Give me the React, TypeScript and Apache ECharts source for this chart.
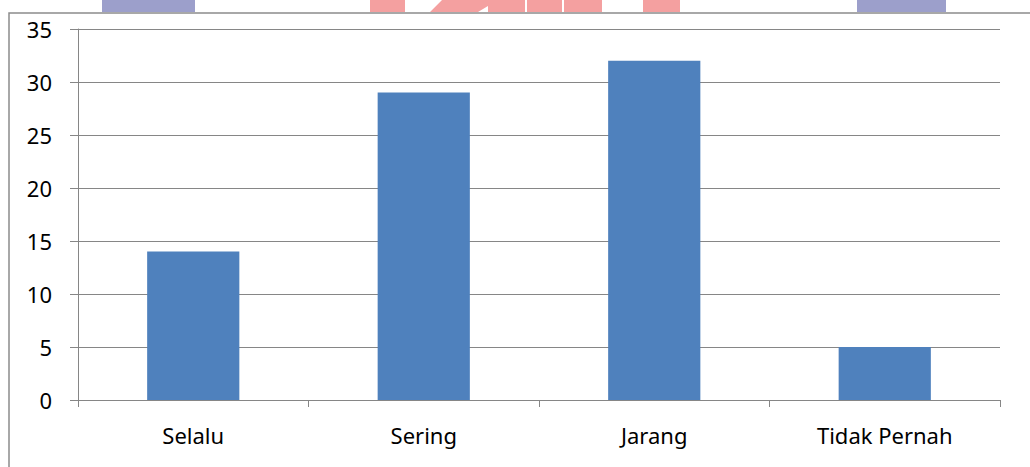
import React, { useEffect, useRef } from "react";
import * as echarts from "echarts";

const categories = ["Selalu", "Sering", "Jarang", "Tidak Pernah"];
const values = [14, 29, 32, 5];
const yMin = 0;
const yMax = 35;
const yInterval = 5;

export default function App() {
  const ref = useRef<HTMLDivElement>(null);
  useEffect(() => {
    if (!ref.current) return;
    const chart = echarts.init(ref.current, null, { renderer: "svg" });
    const font = "Noto Sans";
    chart.setOption({
      animation: false,
      backgroundColor: "#ffffff",
      grid: { left: 78, right: 30, top: 29, bottom: 67, containLabel: false },
      xAxis: {
        type: "category",
        data: categories,
        boundaryGap: true,
        axisLine: { show: true, lineStyle: { color: "#868686", width: 1 } },
        axisTick: { show: true, length: 7, alignWithLabel: false, lineStyle: { color: "#868686" } },
        axisLabel: { color: "#000000", fontSize: 22, fontFamily: font, margin: 24 },
        splitLine: { show: false },
      },
      yAxis: {
        type: "value",
        min: yMin,
        max: yMax,
        interval: yInterval,
        axisLine: { show: true, lineStyle: { color: "#868686", width: 1 } },
        axisTick: { show: true, length: 8, lineStyle: { color: "#868686" } },
        axisLabel: { color: "#000000", fontSize: 22, fontFamily: font, margin: 26 },
        splitLine: { show: true, lineStyle: { color: "#868686", width: 1 } },
      },
      series: [
        {
          type: "bar",
          data: values,
          barWidth: "40%",
          itemStyle: { color: "#4F81BD" },
        },
      ],
      graphic: [
        { type: "rect", shape: { x: 102, y: 0, width: 93, height: 12 }, style: { fill: "#9C9FCB" }, silent: true },
        { type: "rect", shape: { x: 857, y: 0, width: 89, height: 12 }, style: { fill: "#9C9FCB" }, silent: true },
        { type: "rect", shape: { x: 370, y: 0, width: 35, height: 12 }, style: { fill: "#F4A0A0" }, silent: true },
        {
          type: "polygon",
          shape: { points: [[430, 12], [442, 0], [525, 0], [525, 12], [488, 12], [488, 6], [478, 12]] },
          style: { fill: "#F4A0A0" },
          silent: true,
        },
        { type: "rect", shape: { x: 527, y: 0, width: 35, height: 12 }, style: { fill: "#F4A0A0" }, silent: true },
        { type: "rect", shape: { x: 564, y: 0, width: 38, height: 12 }, style: { fill: "#F4A0A0" }, silent: true },
        { type: "rect", shape: { x: 643, y: 0, width: 37, height: 12 }, style: { fill: "#F4A0A0" }, silent: true },
        {
          type: "rect",
          shape: { x: 9, y: 13, width: 1100, height: 600 },
          style: { fill: "none", stroke: "#8c8c8c", lineWidth: 1.5 },
          silent: true,
        },
      ],
    });
    return () => chart.dispose();
  }, []);
  return (
    <div
      ref={ref}
      style={{ position: "fixed", left: 0, top: 0, width: 1030, height: 467 }}
    />
  );
}
